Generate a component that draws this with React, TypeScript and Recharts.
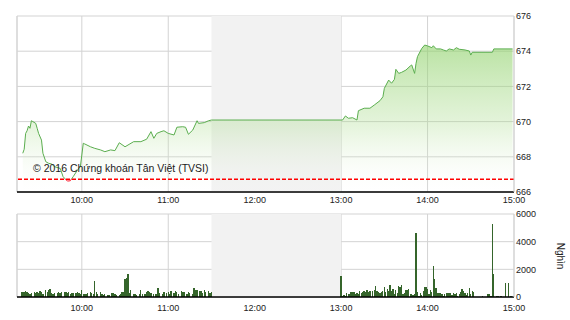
import React from 'react';
import {
  ComposedChart,
  Area,
  Bar,
  XAxis,
  YAxis,
  CartesianGrid,
  ReferenceLine,
  ReferenceArea,
} from 'recharts';

// ---------- data ----------
const sessionStart = '9:15';
const sessionEnd = '15:00';
const lunchStart = '11:30';
const lunchEnd = '13:00';
const refPrice = 666.72;

const timeTicks = ['10:00', '11:00', '12:00', '13:00', '14:00', '15:00'];
const priceTicks = [666, 668, 670, 672, 674, 676];
const volTicks = [0, 2000, 4000, 6000];

const priceTimes = [
  '9:19', '9:20', '9:21', '9:22', '9:23', '9:24', '9:25', '9:26', '9:28', '9:29',
  '9:30', '9:32', '9:33', '9:35', '9:37', '9:39', '9:41', '9:45', '9:47', '9:50',
  '9:52', '9:54', '9:57', '9:59', '10:01', '10:02', '10:06', '10:09', '10:13', '10:16',
  '10:20', '10:23', '10:26', '10:30', '10:36', '10:41', '10:45', '10:48', '10:50', '10:52',
  '10:55', '10:57', '11:00', '11:04', '11:06', '11:10', '11:12', '11:14', '11:17', '11:20',
  '11:21', '11:25', '11:28', '11:30', '13:01', '13:03', '13:05', '13:08', '13:11', '13:12',
  '13:16', '13:20', '13:23', '13:27', '13:29', '13:30', '13:33', '13:35', '13:37', '13:38',
  '13:40', '13:42', '13:45', '13:48', '13:49', '13:51', '13:52', '13:53', '13:56', '13:58',
  '14:00', '14:03', '14:04', '14:06', '14:09', '14:11', '14:13', '14:15', '14:18', '14:20',
  '14:22', '14:26', '14:29', '14:30', '14:31', '14:45', '14:46', '14:59',
];
const priceValues = [
  668.2, 668.43, 669.33, 669.48, 669.75, 669.62, 670.05, 670.0, 669.9, 669.62,
  669.33, 668.95, 668.2, 667.72, 667.63, 667.59, 667.44, 667.34, 666.87, 666.62,
  666.64, 666.87, 667.25, 667.44, 668.77, 668.73, 668.57, 668.48, 668.39, 668.29,
  668.39, 668.35, 668.8, 668.57, 668.86, 668.86, 669.0, 669.43, 669.05, 669.33,
  669.43, 669.48, 669.33, 669.24, 669.68, 669.71, 669.68, 669.28, 669.52, 670.05,
  669.9, 669.94, 670.05, 670.09, 670.09, 670.32, 670.19, 670.22, 670.09, 670.62,
  670.76, 670.76, 670.94, 671.19, 671.41, 671.89, 672.36, 672.18, 672.4, 672.97,
  672.74, 672.8, 672.93, 673.16, 673.22, 672.74, 673.31, 673.69, 674.16, 674.35,
  674.3, 674.2, 674.31, 674.13, 674.13, 674.07, 674.01, 674.13, 674.07, 674.2,
  674.11, 674.07, 674.01, 673.78, 673.94, 673.94, 674.13, 674.13,
];

const volTimes = [
  '9:18', '9:19', '9:20', '9:21', '9:22', '9:23', '9:24', '9:25', '9:27', '9:28',
  '9:29', '9:30', '9:31', '9:32', '9:33', '9:35', '9:36', '9:37', '9:38', '9:39',
  '9:40', '9:41', '9:43', '9:44', '9:45', '9:46', '9:48', '9:49', '9:50', '9:51',
  '9:52', '9:53', '9:54', '9:56', '9:57', '9:58', '9:59', '10:00', '10:01', '10:02',
  '10:03', '10:04', '10:06', '10:07', '10:08', '10:09', '10:10', '10:11', '10:13', '10:14',
  '10:15', '10:16', '10:18', '10:19', '10:21', '10:22', '10:23', '10:24', '10:26', '10:27',
  '10:28', '10:29', '10:30', '10:31', '10:32', '10:33', '10:34', '10:36', '10:37', '10:38',
  '10:40', '10:41', '10:42', '10:44', '10:45', '10:46', '10:47', '10:48', '10:50', '10:51',
  '10:52', '10:53', '10:54', '10:56', '10:57', '10:59', '11:00', '11:01', '11:02', '11:04',
  '11:05', '11:06', '11:07', '11:09', '11:10', '11:11', '11:13', '11:14', '11:15', '11:17',
  '11:18', '11:19', '11:20', '11:22', '11:23', '11:24', '11:25', '11:26', '11:28', '11:29',
  '11:30',
  '13:00', '13:01', '13:02', '13:03', '13:04', '13:05', '13:06', '13:07', '13:08', '13:09',
  '13:10', '13:11', '13:12', '13:13', '13:14', '13:15', '13:16', '13:17', '13:18', '13:19',
  '13:20', '13:22', '13:23', '13:24', '13:25', '13:26', '13:27', '13:28', '13:29', '13:30',
  '13:31', '13:32', '13:33', '13:34', '13:35', '13:36', '13:37', '13:38', '13:39', '13:40',
  '13:41', '13:42', '13:43', '13:44', '13:45', '13:46', '13:47', '13:48', '13:49', '13:50',
  '13:51', '13:52', '13:53', '13:54', '13:55', '13:56', '13:57', '13:58', '13:59', '14:00',
  '14:01', '14:02', '14:03', '14:04', '14:05', '14:06', '14:07', '14:08', '14:09', '14:10',
  '14:11', '14:12', '14:13', '14:14', '14:15', '14:16', '14:17', '14:18', '14:19', '14:20',
  '14:21', '14:22', '14:23', '14:24', '14:25', '14:26', '14:27', '14:28', '14:29', '14:30',
  '14:31', '14:32', '14:38', '14:42', '14:43', '14:44', '14:45', '14:46', '14:48', '14:49',
  '14:51', '14:54', '14:56', '14:58',
];
const volValues = [
  385, 385, 360, 434, 337, 290, 217, 290, 385, 290,
  337, 265, 410, 360, 240, 530, 385, 530, 600, 290,
  240, 290, 265, 360, 290, 385, 337, 337, 265, 337,
  217, 313, 265, 265, 337, 265, 240, 500, 240, 240,
  217, 290, 385, 265, 193, 1180, 337, 240, 385, 193,
  145, 240, 170, 145, 313, 313, 193, 145, 170, 240,
  385, 337, 1300, 1350, 1690, 290, 480, 193, 240, 145,
  193, 480, 240, 193, 337, 458, 360, 313, 193, 240,
  193, 627, 290, 217, 360, 290, 385, 217, 434, 313,
  434, 337, 240, 458, 337, 337, 240, 385, 290, 240,
  650, 480, 530, 458, 434, 265, 480, 385, 410, 265,
  360,
  1520, 100, 145, 72, 313, 193, 240, 337, 360, 337,
  217, 290, 217, 458, 313, 385, 458, 385, 480, 360,
  434, 434, 480, 795, 458, 337, 265, 385, 458, 700,
  337, 580, 410, 868, 434, 555, 240, 505, 265, 795,
  747, 868, 240, 265, 505, 480, 580, 240, 240, 145,
  217, 4600, 360, 96, 313, 145, 434, 723, 700, 580,
  217, 480, 337, 2240, 1300, 650, 290, 290, 290, 240,
  96, 240, 290, 290, 313, 313, 145, 290, 240, 313,
  72, 240, 360, 580, 458, 265, 170, 265, 650, 217,
  410, 385, 72, 217, 217, 96, 5300, 1660, 72, 72,
  72, 1010, 1010, 72,
];

// ---------- helpers ----------
const toMin = (t: string) => {
  const [h, m] = t.split(':').map(Number);
  return h * 60 + m;
};
const fmt = (v: number) => `${Math.floor(v / 60)}:${String(v % 60).padStart(2, '0')}`;

const priceData = priceTimes.map((t, i) => ({ t: toMin(t), price: priceValues[i] }));
const volData = volTimes.map((t, i) => ({ t: toMin(t), vol: volValues[i] }));

const xDomain = [toMin(sessionStart), toMin(sessionEnd)];
const xTicks = timeTicks.map(toMin);

const pMax = Math.max(...priceValues);
const pMin = Math.min(...priceValues);
const redOffset = (pMax - refPrice) / (pMax - pMin);

const GRID = '#d3d3d3';
const SHADE = '#f2f2f2';
const FONT = 'Arial, "Liberation Sans", sans-serif';
const tickStyle = { fontSize: 9, fill: '#222', fontFamily: FONT };

export default function App() {
  return (
    <div
      style={{
        position: 'absolute',
        left: 0,
        top: 0,
        width: 570,
        height: 320,
        background: '#fff',
        fontFamily: FONT,
        overflow: 'hidden',
      }}
    >
      <div style={{ position: 'absolute', left: 0, top: 0 }}>
        <ComposedChart
          width={570}
          height={212}
          data={priceData}
          margin={{ top: 16, right: 0, bottom: 0, left: 17 }}
        >
          <defs>
            <linearGradient id="fillG" x1="0" y1="0" x2="0" y2="1">
              <stop offset="0%" stopColor="#8fd16a" stopOpacity={0.62} />
              <stop offset="55%" stopColor="#a8db8a" stopOpacity={0.3} />
              <stop offset="100%" stopColor="#ffffff" stopOpacity={0.05} />
            </linearGradient>
            <linearGradient id="strokeG" x1="0" y1="0" x2="0" y2="1">
              <stop offset={redOffset} stopColor="#5aad4e" />
              <stop offset={redOffset} stopColor="#ff1a2e" />
            </linearGradient>
          </defs>
          <ReferenceArea
            x1={toMin(lunchStart)}
            x2={toMin(lunchEnd)}
            y1={priceTicks[0]}
            y2={priceTicks[priceTicks.length - 1]}
            fill={SHADE}
            fillOpacity={1}
            stroke="none"
          />
          <CartesianGrid stroke={GRID} strokeDasharray="" />
          <ReferenceLine x={xDomain[0]} stroke={GRID} />
          <XAxis
            dataKey="t"
            type="number"
            domain={xDomain}
            ticks={xTicks}
            tickFormatter={fmt}
            allowDataOverflow
            height={20}
            tickLine={false}
            tickSize={0}
            tickMargin={5}
            axisLine={{ stroke: '#000', strokeWidth: 1.5 }}
            tick={tickStyle}
            interval={0}
          />
          <YAxis
            orientation="right"
            domain={[priceTicks[0], priceTicks[priceTicks.length - 1]]}
            ticks={priceTicks}
            width={56}
            tickLine={false}
            tickSize={0}
            tickMargin={2}
            axisLine={{ stroke: GRID }}
            tick={{ ...tickStyle, textAnchor: 'start' }}
            interval={0}
            allowDataOverflow
          />
          <Area
            type="linear"
            dataKey="price"
            stroke="url(#strokeG)"
            strokeWidth={1}
            fill="url(#fillG)"
            fillOpacity={1}
            isAnimationActive={false}
            dot={false}
            activeDot={false}
          />
          <ReferenceLine
            y={refPrice}
            stroke="#ff0000"
            strokeOpacity={1}
            strokeDasharray="4 2"
            strokeWidth={1.5}
          />
        </ComposedChart>
      </div>

      <div style={{ position: 'absolute', left: 0, top: 200 }}>
        <ComposedChart
          width={570}
          height={120}
          data={volData}
          margin={{ top: 14, right: 0, bottom: 0, left: 17 }}
        >
          <ReferenceArea
            x1={toMin(lunchStart)}
            x2={toMin(lunchEnd)}
            y1={volTicks[0]}
            y2={volTicks[volTicks.length - 1]}
            fill={SHADE}
            fillOpacity={1}
            stroke="none"
          />
          <CartesianGrid stroke={GRID} strokeDasharray="" />
          <ReferenceLine x={xDomain[0]} stroke={GRID} />
          <XAxis
            dataKey="t"
            type="number"
            domain={xDomain}
            ticks={xTicks}
            tickFormatter={fmt}
            allowDataOverflow
            height={23}
            tickLine={false}
            tickSize={0}
            tickMargin={8}
            axisLine={{ stroke: '#000', strokeWidth: 1.5 }}
            tick={tickStyle}
            interval={0}
          />
          <YAxis
            orientation="right"
            domain={[volTicks[0], volTicks[volTicks.length - 1]]}
            ticks={volTicks}
            width={56}
            tickLine={false}
            tickSize={0}
            tickMargin={2}
            axisLine={{ stroke: GRID }}
            tick={{ ...tickStyle, textAnchor: 'start' }}
            interval={0}
            allowDataOverflow
          />
          <Bar
            dataKey="vol"
            fill="#35652b"
            barSize={1.3}
            shapeRendering="crispEdges"
            isAnimationActive={false}
          />
        </ComposedChart>
      </div>

      <div
        style={{
          position: 'absolute',
          left: 33,
          top: 162,
          fontSize: 10.5,
          lineHeight: '12px',
          color: '#222',
          whiteSpace: 'nowrap',
          pointerEvents: 'none',
        }}
      >
        © 2016 Chứng khoán Tân Việt (TVSI)
      </div>

      <div
        style={{
          position: 'absolute',
          left: 559.5,
          top: 256,
          fontSize: 10,
          lineHeight: '10px',
          color: '#222',
          whiteSpace: 'nowrap',
          transform: 'translate(-50%, -50%) rotate(90deg)',
          pointerEvents: 'none',
        }}
      >
        Nghìn
      </div>
    </div>
  );
}
